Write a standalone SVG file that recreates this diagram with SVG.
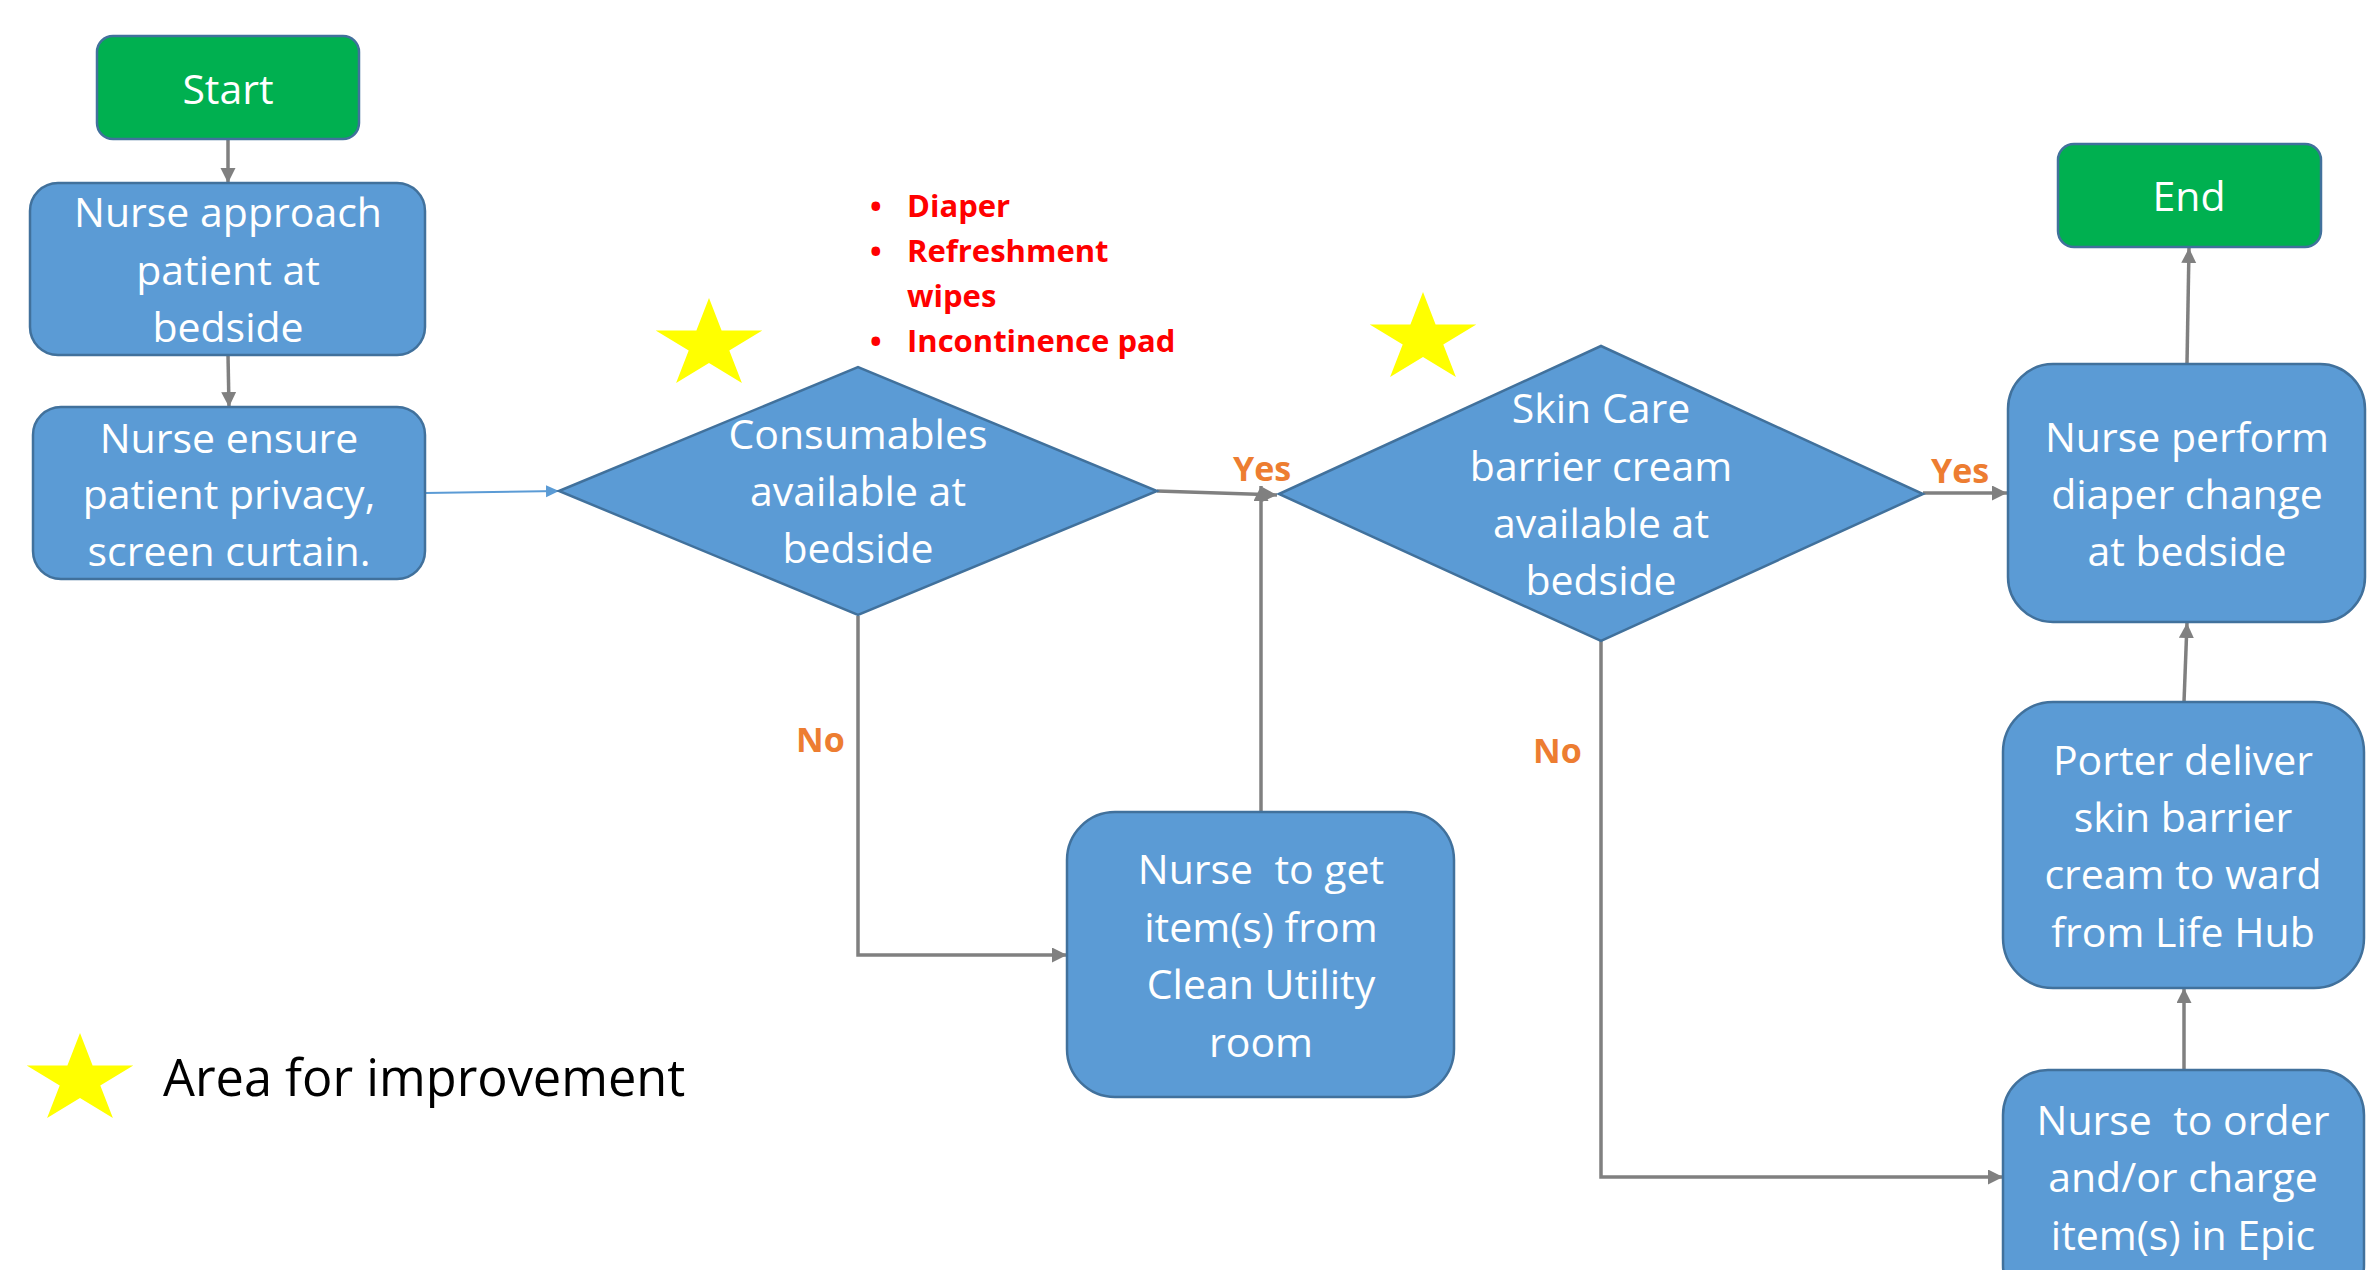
<svg xmlns="http://www.w3.org/2000/svg" xmlns:xlink="http://www.w3.org/1999/xlink" width="2372" height="1270" viewBox="0 0 2372 1270">
<style>
.box{fill:#5B9BD5;stroke:#41719C;stroke-width:2.5}
.term{fill:#00B050;stroke:#41719C;stroke-width:2.5}
.t{font-family:"Open Sans","Noto Sans",sans-serif;font-size:41px;fill:#FFFFFF;text-anchor:middle}
.pre{white-space:pre}
.lbl{font-family:"Open Sans","Noto Sans",sans-serif;font-size:34px;font-weight:bold;fill:#ED7D31}
.red{font-family:"Open Sans","Noto Sans",sans-serif;font-size:31px;font-weight:bold;fill:#FF0000}
.leg{font-family:"Open Sans","Noto Sans",sans-serif;font-size:50.5px;fill:#000000}
.con{fill:none;stroke:#808080;stroke-width:3.5;marker-end:url(#ag)}
.conb{fill:none;stroke:#5B9BD5;stroke-width:2;marker-end:url(#ab)}
.star{fill:#FFFF00}
</style>
<defs>
<marker id="ag" markerUnits="userSpaceOnUse" markerWidth="16" markerHeight="16" refX="15" refY="7.5" orient="auto"><path d="M0,0 L15,7.5 L0,15 z" fill="#808080"/></marker>
<marker id="ab" markerUnits="userSpaceOnUse" markerWidth="14" markerHeight="14" refX="13" refY="6" orient="auto"><path d="M0,0 L13,6 L0,12 z" fill="#5B9BD5"/></marker>
<polygon id="star" points="0,-47 12.6,-14.5 53.3,-14.5 20.3,5.5 32.9,38 0,18 -32.9,38 -20.3,5.5 -53.3,-14.5 -12.6,-14.5"/>
</defs>
<rect width="2372" height="1270" fill="#FFFFFF"/>
<g id="connectors">
<path class="con" d="M228,139 L228,183"/>
<path class="con" d="M228,355 L229,407"/>
<path class="conb" d="M425,493 L559,491"/>
<path class="con" d="M1157,491 L1277,495"/>
<path class="con" d="M1261,812 L1261,486"/>
<path class="con" d="M858,616 L858,955 L1067,955"/>
<path class="con" d="M1923,493 L2007,493"/>
<path class="con" d="M1601,641 L1601,1177 L2003,1177"/>
<path class="con" d="M2184,1070 L2184,988"/>
<path class="con" d="M2184,702 L2187,623"/>
<path class="con" d="M2187,364 L2189,248"/>
</g>
<g id="start"><rect class="term" x="97" y="36" width="262" height="103" rx="16"/><text class="t" x="228" y="104">Start</text></g>
<g id="approach"><rect class="box" x="30" y="183" width="395" height="172" rx="28"/><text class="t" x="228"><tspan x="228" y="227">Nurse approach</tspan><tspan x="228" y="285">patient at</tspan><tspan x="228" y="342">bedside</tspan></text></g>
<g id="ensure"><rect class="box" x="33" y="407" width="392" height="172" rx="28"/><text class="t"><tspan x="229" y="453">Nurse ensure</tspan><tspan x="229" y="509">patient privacy,</tspan><tspan x="229" y="566">screen curtain.</tspan></text></g>
<g id="consumables"><polygon class="box" points="559,491 858,367 1157,491 858,615"/><text class="t"><tspan x="858" y="449">Consumables</tspan><tspan x="858" y="506">available at</tspan><tspan x="858" y="563">bedside</tspan></text></g>
<g id="skincare"><polygon class="box" points="1279,494 1601,346 1923,494 1601,641"/><text class="t"><tspan x="1601" y="423">Skin Care</tspan><tspan x="1601" y="481">barrier cream</tspan><tspan x="1601" y="538">available at</tspan><tspan x="1601" y="595">bedside</tspan></text></g>
<g id="getitems"><rect class="box" x="1067" y="812" width="387" height="285" rx="48"/><text class="t pre" xml:space="preserve"><tspan x="1261" y="884">Nurse  to get</tspan><tspan x="1261" y="942">item(s) from</tspan><tspan x="1261" y="999">Clean Utility</tspan><tspan x="1261" y="1057">room</tspan></text></g>
<g id="perform"><rect class="box" x="2008" y="364" width="357" height="258" rx="45"/><text class="t"><tspan x="2187" y="452">Nurse perform</tspan><tspan x="2187" y="509">diaper change</tspan><tspan x="2187" y="566">at bedside</tspan></text></g>
<g id="end"><rect class="term" x="2058" y="144" width="263" height="103" rx="16"/><text class="t" x="2189" y="211">End</text></g>
<g id="porter"><rect class="box" x="2003" y="702" width="361" height="286" rx="50"/><text class="t"><tspan x="2183" y="775">Porter deliver</tspan><tspan x="2183" y="832">skin barrier</tspan><tspan x="2183" y="889">cream to ward</tspan><tspan x="2183" y="947">from Life Hub</tspan></text></g>
<g id="order"><rect class="box" x="2003" y="1070" width="361" height="240" rx="45"/><text class="t pre" xml:space="preserve"><tspan x="2183" y="1135">Nurse  to order</tspan><tspan x="2183" y="1192">and/or charge</tspan><tspan x="2183" y="1250">item(s) in Epic</tspan></text></g>
<g id="labels">
<text class="lbl" x="1233" y="481">Yes</text>
<text class="lbl" x="1931" y="483">Yes</text>
<text class="lbl" x="796" y="752">No</text>
<text class="lbl" x="1533" y="763">No</text>
</g>
<g id="consumable-list">
<text class="red"><tspan x="870" y="217">•</tspan><tspan x="907" y="217">Diaper</tspan><tspan x="870" y="262">•</tspan><tspan x="907" y="262">Refreshment</tspan><tspan x="907" y="307">wipes</tspan><tspan x="870" y="352">•</tspan><tspan x="907" y="352">Incontinence pad</tspan></text>
</g>
<g id="stars">
<use xlink:href="#star" class="star" transform="translate(709,345)"/>
<use xlink:href="#star" class="star" transform="translate(1423,339)"/>
</g>
<g id="legend">
<use xlink:href="#star" class="star" transform="translate(80,1080)"/>
<text class="leg" x="163" y="1096">Area for improvement</text>
</g>
</svg>
